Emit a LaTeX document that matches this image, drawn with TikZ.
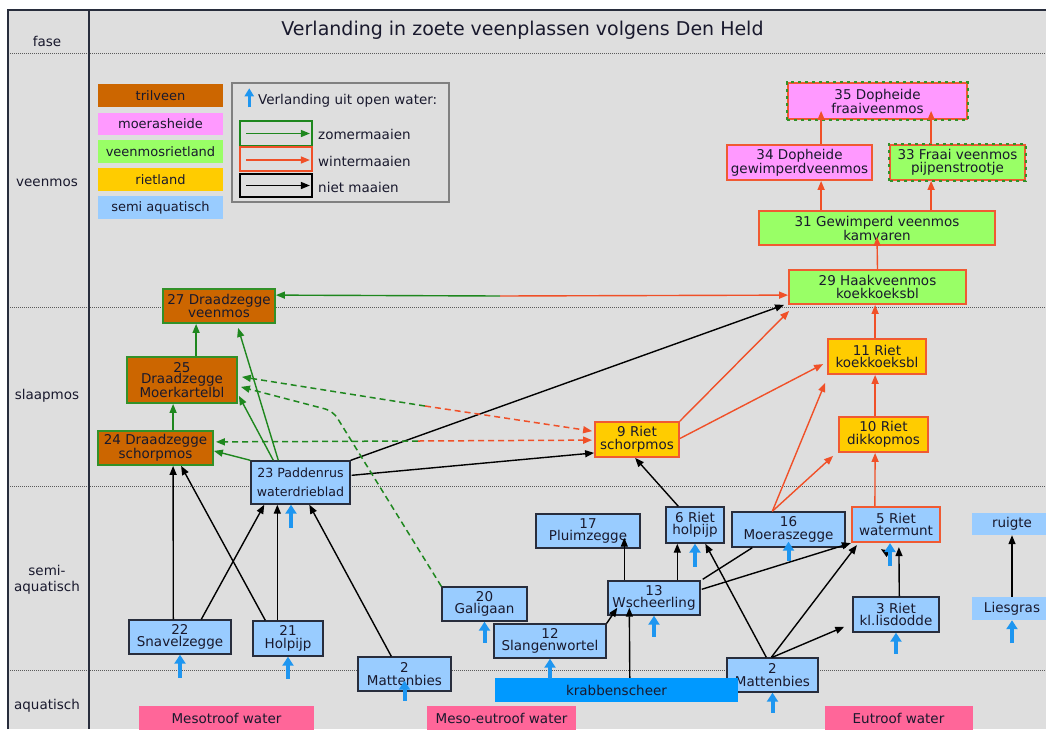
\documentclass[tikz,border=0pt]{standalone}
\usepackage{fontspec}
\setmainfont{DejaVu Sans}
\usetikzlibrary{arrows.meta,calc}
\definecolor{cBg}{RGB}{222,222,222}
\definecolor{cText}{RGB}{25,25,45}
\definecolor{cTril}{RGB}{204,102,0}
\definecolor{cHeide}{RGB}{255,153,255}
\definecolor{cVmr}{RGB}{153,255,102}
\definecolor{cRiet}{RGB}{255,204,0}
\definecolor{cSemi}{RGB}{153,204,255}
\definecolor{cKrab}{RGB}{0,153,255}
\definecolor{cWater}{RGB}{255,102,153}
\definecolor{cGreen}{RGB}{30,135,30}
\definecolor{cGreenB}{RGB}{50,145,40}
\definecolor{cRed}{RGB}{240,80,40}
\definecolor{cRedB}{RGB}{240,90,50}
\definecolor{cDark}{RGB}{40,45,60}
\definecolor{cBlueA}{RGB}{30,150,240}
\definecolor{cGrid}{RGB}{90,90,90}
\begin{document}
\begin{tikzpicture}[x=1pt,y=-1pt,
  nf/.style={font=\fontsize{13.5}{12.5}\selectfont},
  bx/.style={rectangle, inner sep=0pt, align=center, text=cText, nf},
  tril/.style={bx, fill=cTril, draw=cGreenB, line width=1.8pt},
  heide/.style={bx, fill=cHeide, draw=cRedB, line width=1.8pt},
  vmr/.style={bx, fill=cVmr, draw=cRedB, line width=1.8pt},
  riet/.style={bx, fill=cRiet, draw=cRedB, line width=1.8pt},
  semi/.style={bx, fill=cSemi, draw=cDark, line width=1.4pt},
  semired/.style={bx, fill=cSemi, draw=cRedB, line width=2.2pt},
  plain/.style={bx, fill=cSemi},
  leg/.style={bx, font=\fontsize{13}{12}\selectfont, minimum width=125},
  lab/.style={align=center, text=cText, font=\fontsize{13.5}{16}\selectfont, inner sep=0pt},
  arr/.style={line width=1.4pt, -{Triangle[length=9pt,width=7pt]}},
  blk/.style={arr, draw=black},
  grn/.style={arr, draw=cGreen},
  red/.style={arr, draw=cRed},
  dsh/.style={dash pattern=on 6pt off 4pt, line width=1.5pt},
  gridline/.style={draw=cGrid, line width=1pt, dash pattern=on 1pt off 1pt},
  bluearr/.style={draw=cBlueA, line width=4pt, -{Triangle[length=9pt,width=11pt]}},
  dualdash/.style={draw=cGreenB, line width=1.8pt, dash pattern=on 3pt off 4pt}
]
\useasboundingbox (0,0) rectangle (1046,729);
\fill[white] (0,0) rectangle (1046,729);
\fill[cBg] (8,10) rectangle (1046,729);
% grid
\draw[gridline] (8,53) -- (1046,53);
\draw[gridline] (8,307) -- (1046,307);
\draw[gridline] (8,486) -- (1046,486);
\draw[gridline] (8,670) -- (1046,670);
\draw[line width=1.5pt, draw=cDark] (8,729) -- (8,10) -- (1046,10);
\draw[line width=1.5pt, draw=cDark] (89,10) -- (89,729);
% labels
\node[lab] (fase) at (47,41) {fase};
\node[lab] (veenmos) at (47,183) {veenmos};
\node[lab] (slaapmos) at (47,396) {slaapmos};
\node[lab] (semiaq) at (47,580) {semi-\\aquatisch};
\node[lab] (aquat) at (47,706) {aquatisch};
\node[lab, font=\fontsize{19}{20}\selectfont] (title) at (522.5,30) {Verlanding in zoete veenplassen volgens Den Held};
% legend colours
\node[leg, fill=cTril, minimum height=23] (l1) at (160.5,95.5) {trilveen};
\node[leg, fill=cHeide, minimum height=22] (l2) at (160.5,124) {moerasheide};
\node[leg, fill=cVmr, minimum height=23] (l3) at (160.5,151.5) {veenmosrietland};
\node[leg, fill=cRiet, minimum height=23] (l4) at (160.5,179.5) {rietland};
\node[leg, fill=cSemi, minimum height=23] (l5) at (160.5,207.5) {semi aquatisch};
% legend arrows
\node[draw=gray, line width=1.5pt, minimum width=217, minimum height=119, inner sep=0pt] (lgbox) at (340.5,142.5) {};
\draw[draw=cBlueA, line width=3.5pt, -{Triangle[length=8pt,width=9pt]}] ($(lgbox.north west)+(18,25)$) -- ($(lgbox.north west)+(18,6)$);
\node[lab, anchor=west] (lgt) at (258,101) {Verlanding uit open water:};
\node[draw=cGreen, line width=1.8pt, minimum width=72, minimum height=25, inner sep=0pt] (lgz) at (276,133.5) {};
\node[draw=cRed, line width=1.8pt, minimum width=72, minimum height=24, inner sep=0pt] (lgw) at (276,159) {};
\node[draw=black, line width=1.8pt, minimum width=72, minimum height=23, inner sep=0pt] (lgn) at (276,185.5) {};
\draw[grn] ($(lgz.west)+(7,0)$) -- ($(lgz.east)+(-3,0)$);
\draw[red] ($(lgw.west)+(7,1)$) -- ($(lgw.east)+(-3,1)$);
\draw[blk] ($(lgn.west)+(7,0)$) -- ($(lgn.east)+(-3,0)$);
\node[lab, anchor=west] (lgzt) at (318,134) {zomermaaien};
\node[lab, anchor=west] (lgwt) at (318,161) {wintermaaien};
\node[lab, anchor=west] (lgnt) at (318,187) {niet maaien};
% nodes
\node[heide, minimum width=179, minimum height=36] (n35) at (877.5,101) {35 Dopheide\\fraaiveenmos};
\draw[dualdash] (n35.south west) rectangle (n35.north east);
\node[heide, minimum width=145, minimum height=35] (n34) at (799.5,162.5) {34 Dopheide\\gewimperdveenmos};
\node[vmr, minimum width=135, minimum height=35] (n33) at (957.5,162.5) {33 Fraai veenmos\\pijpenstrootje};
\draw[dualdash] (n33.south west) rectangle (n33.north east);
\node[vmr, minimum width=236, minimum height=34] (n31) at (877,228) {31 Gewimperd veenmos\\kamvaren};
\node[vmr, minimum width=177, minimum height=34] (n29) at (877.5,287) {29 Haakveenmos\\koekkoeksbl};
\node[tril, minimum width=112, minimum height=34] (n27) at (219,306) {27 Draadzegge\\veenmos};
\node[tril, minimum width=110, minimum height=46, font=\fontsize{13.5}{11.5}\selectfont] (n25) at (182,380) {25\\Draadzegge\\Moerkartelbl};
\node[tril, minimum width=115, minimum height=34] (n24) at (155.5,448) {24 Draadzegge\\schorpmos};
\node[semi, minimum width=99, minimum height=43, font=\fontsize{12.6}{19}\selectfont] (n23) at (300.5,482.5) {23 Paddenrus\\waterdrieblad};
\node[riet, minimum width=84, minimum height=35] (n9) at (637,439.5) {9 Riet\\schorpmos};
\node[riet, minimum width=98, minimum height=35] (n11) at (877,356.5) {11 Riet\\koekkoeksbl};
\node[riet, minimum width=89, minimum height=35] (n10) at (883.5,434.5) {10 Riet\\dikkopmos};
\node[semired, minimum width=88, minimum height=35] (n5) at (896,524.5) {5 Riet\\watermunt};
\node[semi, minimum width=113, minimum height=35] (n16) at (788.5,529.5) {16\\Moeraszegge};
\node[semi, minimum width=58, minimum height=36] (n6) at (695,525) {6 Riet\\holpijp};
\node[semi, minimum width=104, minimum height=34] (n17) at (588,531) {17\\Pluimzegge};
\node[semi, minimum width=92, minimum height=34] (n13) at (654,598) {13\\Wscheerling};
\node[semi, minimum width=112, minimum height=34] (n12) at (550,641) {12\\Slangenwortel};
\node[semi, minimum width=85, minimum height=34] (n20) at (484.5,604) {20\\Galigaan};
\node[semi, minimum width=86, minimum height=35] (n3) at (896,614.5) {3 Riet\\kl.lisdodde};
\node[plain, minimum width=80, minimum height=22] (nru) at (1012,524) {ruigte};
\node[plain, minimum width=80, minimum height=23] (nli) at (1012,608.5) {Liesgras};
\node[semi, minimum width=102, minimum height=34] (n22) at (180,637) {22\\Snavelzegge};
\node[semi, minimum width=70, minimum height=35] (n21) at (288,638.5) {21\\Holpijp};
\node[semi, minimum width=93, minimum height=34] (n2L) at (404.5,674) {2\\Mattenbies};
\node[semi, minimum width=91, minimum height=34] (n2R) at (772.5,675) {2\\Mattenbies};
\node[bx, fill=cKrab, minimum width=243, minimum height=24] (krab) at (616.5,690) {krabbenscheer};
\node[bx, fill=cWater, minimum width=175, minimum height=24] (w1) at (226.5,718) {Mesotroof water};
\node[bx, fill=cWater, minimum width=149, minimum height=24] (w2) at (501.5,718) {Meso-eutroof water};
\node[bx, fill=cWater, minimum width=148, minimum height=24] (w3) at (898.5,718) {Eutroof water};
% black connectors
\draw[blk] ($(n22.north west)+(45,0)$) -- ($(n24.south west)+(76,0)$);
\draw[blk] ($(n22.north west)+(73,0)$) -- ($(n23.south west)+(14,0)$);
\draw[blk] ($(n21.north west)+(13,0)$) -- ($(n24.south west)+(84,0)$);
\draw[blk] ($(n21.north west)+(25,0)$) -- ($(n23.south west)+(27,0)$);
\draw[blk] ($(n2L.north west)+(34,0)$) -- ($(n23.south west)+(59,0)$);
\draw[blk] (n23.north east) -- ($(n29.south west)+(-4,0)$);
\draw[blk] ($(n23.north east)+(1,15)$) -- ($(n9.south west)+(0,-5)$);
\draw[blk] ($(n6.north west)+(13,0)$) -- ($(n9.south west)+(41,0)$);
\draw[blk] ($(n13.north west)+(17,0)$) -- ($(n17.south west)+(89,-11)$);
\draw[blk] ($(n13.north west)+(70,0)$) -- ($(n6.south west)+(12,0)$);
\draw[line width=1.4pt] ($(n13.north east)+(2,-1)$) -- ($(n16.south west)+(21,0)$);
\draw[blk] ($(n13.north east)+(1,9)$) -- (n5.south west);
\draw[blk] (n12.north east) -- ($(n13.south west)+(10,-8)$);
\draw[blk] ($(krab.north west)+(135,0)$) -- ($(n13.south west)+(22,-8)$);
\draw[blk] ($(n2R.north west)+(40,0)$) -- ($(n6.south west)+(40,0)$);
\draw[blk] ($(n2R.north west)+(45,0)$) -- ($(n5.south west)+(6,2)$);
\draw[blk] ($(n2R.north west)+(46,0)$) -- ($(n3.south west)+(-8,-6)$);
\draw[blk] ($(n3.north west)+(47,0)$) -- ($(n5.south west)+(48,4)$);
\draw[blk] ($(n5.south west)+(38,11)$) -- ($(n5.south west)+(30,6)$);
\draw[blk] (nli.north) -- (nru.south);
% green connectors
\draw[grn] ($(n25.north west)+(70,0)$) -- ($(n27.south west)+(34,0)$);
\draw[grn] ($(n24.north west)+(76,0)$) -- ($(n25.south west)+(47,0)$);
\draw[grn] ($(n23.north west)+(28,0)$) -- ($(n27.south west)+(76,4)$);
\draw[grn] ($(n23.north west)+(23,0)$) -- ($(n25.south east)+(1,-8)$);
\draw[grn] (n23.north west) -- ($(n24.south east)+(0,-15)$);
\coordinate (m1) at (500,296);
\draw[grn] (m1) -- ($(n27.north east)+(0,7)$);
\draw[red] (m1) -- ($(n29.north west)+(0,26)$);
% dashed connectors
\coordinate (m2) at (425,406);
\draw[grn, dsh] (m2) -- ($(n25.south east)+(4,-27)$);
\draw[red, dsh] (m2) -- ($(n9.north west)+(-2,10)$);
\coordinate (m3) at (418,441);
\draw[grn, dsh] (m3) -- ($(n24.south east)+(2,-24)$);
\draw[red, dsh] (m3) -- ($(n9.north west)+(-2,19)$);
\coordinate (b1) at (333,411);
\draw[grn, dsh, rounded corners=8pt] (n20.north west) -- (b1) -- ($(n25.south east)+(3,-17)$);
% red connectors
\draw[red] (n9.north east) -- ($(n29.south west)+(1,6)$);
\draw[red] ($(n9.east)+(0,-1)$) -- ($(n11.north west)+(-4,26)$);
\draw[red] ($(n16.north west)+(41,0)$) -- ($(n11.south west)+(-2,8)$);
\draw[red] ($(n16.north west)+(41,0)$) -- ($(n10.south west)+(-5,3)$);
\draw[red] ($(n5.north west)+(24,0)$) -- ($(n10.south west)+(37,0)$);
\draw[red] ($(n10.north west)+(37,0)$) -- ($(n11.south west)+(48,0)$);
\draw[red] ($(n11.north west)+(48,0)$) -- ($(n29.south west)+(87,0)$);
\draw[red] (n29.north) -- ($(n31.south)+(0,-9)$);
\draw[red] ($(n31.north west)+(63,0)$) -- ($(n34.south west)+(95,0)$);
\draw[red] ($(n31.north west)+(173,0)$) -- ($(n33.south west)+(42,0)$);
\draw[red] ($(n34.north west)+(95,0)$) -- ($(n35.south west)+(34,-9)$);
\draw[red] ($(n33.north west)+(42,0)$) -- ($(n35.south west)+(144,-9)$);
% blue arrows (open water)
\draw[bluearr] ($(n22.south)+(0,23)$) -- (n22.south);
\draw[bluearr] ($(n21.south)+(0,22)$) -- (n21.south);
\draw[bluearr] ($(n2L.south)+(0,9)$) -- ($(n2L.south)+(0,-11)$);
\draw[bluearr] ($(n20.south)+(0,21)$) -- (n20.south);
\draw[bluearr] ($(n23.south)+(-9.5,23)$) -- ($(n23.south)+(-9.5,0)$);
\draw[bluearr] ($(n12.south)+(0,20)$) -- (n12.south);
\draw[bluearr] ($(n13.south)+(0,21)$) -- (n13.south);
\draw[bluearr] ($(n6.south)+(0,23)$) -- (n6.south);
\draw[bluearr] ($(n16.south)+(0,13)$) -- ($(n16.south)+(0,-6)$);
\draw[bluearr] ($(n5.south)+(-6,23)$) -- ($(n5.south)+(-6,0)$);
\draw[bluearr] ($(n3.south)+(0,21)$) -- (n3.south);
\draw[bluearr] ($(n2R.south)+(0,20)$) -- (n2R.south);
\draw[bluearr] ($(nli.south)+(0,23)$) -- (nli.south);
\end{tikzpicture}
\end{document}
